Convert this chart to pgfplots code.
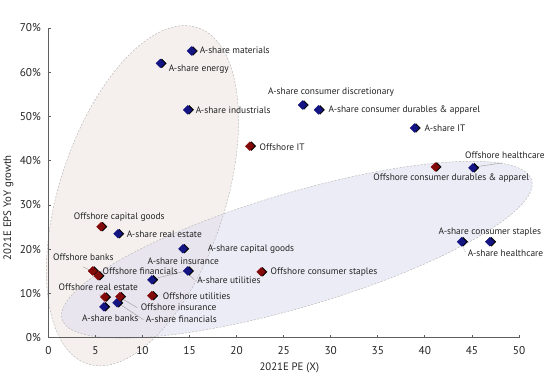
\documentclass[border=0pt]{standalone}
\usepackage{pgfplots}
\pgfplotsset{compat=1.18}
\usepackage{fontspec}
\setmainfont{PT Sans}
\definecolor{navyb}{RGB}{20,20,130}
\definecolor{darkr}{RGB}{130,10,10}
\definecolor{axgray}{RGB}{95,95,95}
\definecolor{txt}{RGB}{35,35,35}
\definecolor{beige}{RGB}{236,226,222}
\definecolor{lav}{RGB}{218,218,238}
\pgfplotstableread{
x y
15.2 64.8
11.9 62.0
14.8 51.5
27.0 52.6
28.7 51.5
38.9 47.4
45.1 38.4
43.9 21.7
46.9 21.7
7.4 23.5
14.3 20.1
11.0 13.1
14.8 15.1
5.9 7.0
7.3 7.9
}\ashare
\pgfplotstableread{
x y
21.4 43.3
41.1 38.6
22.6 14.9
5.6 25.1
4.7 15.1
5.3 14.0
6.0 9.2
7.6 9.3
11.0 9.5
}\offshore
\begin{document}
\begin{tikzpicture}[font=\fontsize{9.4}{11}\selectfont, text=txt]
\begin{axis}[
  set layers,
  scale only axis, width=471pt, height=310pt,
  xmin=0, xmax=50, ymin=0, ymax=70,
  axis x line=bottom, axis y line=left,
  axis line style={-, axgray, line width=1.1pt},
  xtick={0,5,...,50}, ytick={0,10,...,70},
  tick align=inside, major tick length=3pt,
  tick style={axgray, line width=0.8pt},
  /pgf/number format/assume math mode=true,
  yticklabel={\pgfmathprintnumber{\tick}\%},
  ticklabel style={font=\fontsize{11.3}{12}\selectfont, text=txt},
  yticklabel style={xshift=-4pt},
  xticklabel style={yshift=-5pt},
  xlabel={2021E PE (X)}, ylabel={2021E EPS YoY growth},
  xlabel style={at={(axis description cs:0.512,-0.097)}, anchor=center, font=\fontsize{10.8}{12}\selectfont},
  ylabel style={at={(axis description cs:-0.085,0.42)}, anchor=center, font=\fontsize{10.8}{12}\selectfont},
  clip=false,
]
\begin{pgfonlayer}{axis background}
\fill[overlay, beige, opacity=0.5] (axis cs:10.0,32.1) ellipse[x radius=177pt, y radius=83pt, rotate=71.9];
\fill[overlay, lav, opacity=0.5] (axis cs:26.4,19.9) ellipse[x radius=245pt, y radius=57pt, rotate=16.5];
\draw[overlay, gray!55, dash pattern=on 2pt off 1.5pt, line width=0.5pt] (axis cs:10.0,32.1) ellipse[x radius=177pt, y radius=83pt, rotate=71.9];
\draw[overlay, gray!55, dash pattern=on 2pt off 1.5pt, line width=0.5pt] (axis cs:26.4,19.9) ellipse[x radius=245pt, y radius=57pt, rotate=16.5];
\end{pgfonlayer}
% leader lines
\draw[gray!70, line width=0.5pt] (axis cs:45.3,38.6) -- (axis cs:48.2,39.5);
\draw[gray!70, line width=0.5pt, dash pattern=on 1pt off 1pt] (axis cs:43.85,21.2) -- (axis cs:44.3,19.4);
\draw[gray!70, line width=0.5pt] (axis cs:3.7,16.0) -- (axis cs:4.6,15.1);
\draw[gray!70, line width=0.5pt] (axis cs:11.15,13.3) -- (axis cs:14.65,15.1);
\draw[gray!70, line width=0.5pt] (axis cs:14.86,14.45) -- (axis cs:15.5,13.1);
\draw[gray!70, line width=0.5pt] (axis cs:5.4,9.7) -- (axis cs:5.95,9.3);
\draw[gray!70, line width=0.5pt] (axis cs:7.85,8.8) -- (axis cs:9.45,6.8);
\draw[gray!70, line width=0.5pt] (axis cs:7.64,7.5) -- (axis cs:10.1,4.1);
% shadows
\addplot[only marks, mark=square*, mark size=3.1pt, mark options={rotate=45, fill=black, draw=black, xshift=1.1pt, yshift=-1.1pt}] table {\ashare};
\addplot[only marks, mark=square*, mark size=3.1pt, mark options={rotate=45, fill=black, draw=black, xshift=1.1pt, yshift=-1.1pt}] table {\offshore};
\addplot[only marks, mark=square*, mark size=3.1pt, mark options={rotate=45, fill=navyb, draw=navyb}] table {\ashare};
\addplot[only marks, mark=square*, mark size=3.1pt, mark options={rotate=45, fill=darkr, draw=darkr}] table {\offshore};
% labels
\node[anchor=west] at (axis cs:15.71,64.9) {A-share materials};
\node[anchor=west] at (axis cs:12.42,60.7) {A-share energy};
\node[anchor=west] at (axis cs:15.29,51.5) {A-share industrials};
\node[anchor=west] at (axis cs:22.08,43.1) {Offshore IT};
\node at (axis cs:30.04,55.5) {A-share consumer discretionary};
\node[anchor=west] at (axis cs:29.4,51.5) {A-share consumer durables \& apparel};
\node[anchor=west] at (axis cs:39.6,47.4) {A-share IT};
\node[overlay] at (axis cs:48.5,41.3) {Offshore healthcare};
\node at (axis cs:42.8,36.1) {Offshore consumer durables \& apparel};
\node[overlay] at (axis cs:46.9,23.9) {A-share consumer staples};
\node[overlay, anchor=west] at (axis cs:44.2,19.2) {A-share healthcare};
\node[anchor=west] at (axis cs:23.25,14.9) {Offshore consumer staples};
\node at (axis cs:7.54,27.3) {Offshore capital goods};
\node[anchor=west] at (axis cs:7.96,23.5) {A-share real estate};
\node[anchor=west] at (axis cs:16.56,20.1) {A-share capital goods};
\node at (axis cs:3.72,18.1) {Offshore banks};
\node[anchor=west] at (axis cs:5.4,15.1) {Offshore financials};
\node at (axis cs:14.33,17.2) {A-share insurance};
\node[anchor=west] at (axis cs:15.45,12.9) {A-share utilities};
\node at (axis cs:5.31,11.5) {Offshore real estate};
\node[anchor=west] at (axis cs:11.8,9.3) {Offshore utilities};
\node[anchor=west] at (axis cs:9.45,6.8) {Offshore insurance};
\node at (axis cs:6.58,4.5) {A-share banks};
\node[anchor=west] at (axis cs:10.0,4.1) {A-share financials};
\end{axis}
\path (-48pt,-39pt) rectangle (502pt,338pt);
\end{tikzpicture}
\end{document}
